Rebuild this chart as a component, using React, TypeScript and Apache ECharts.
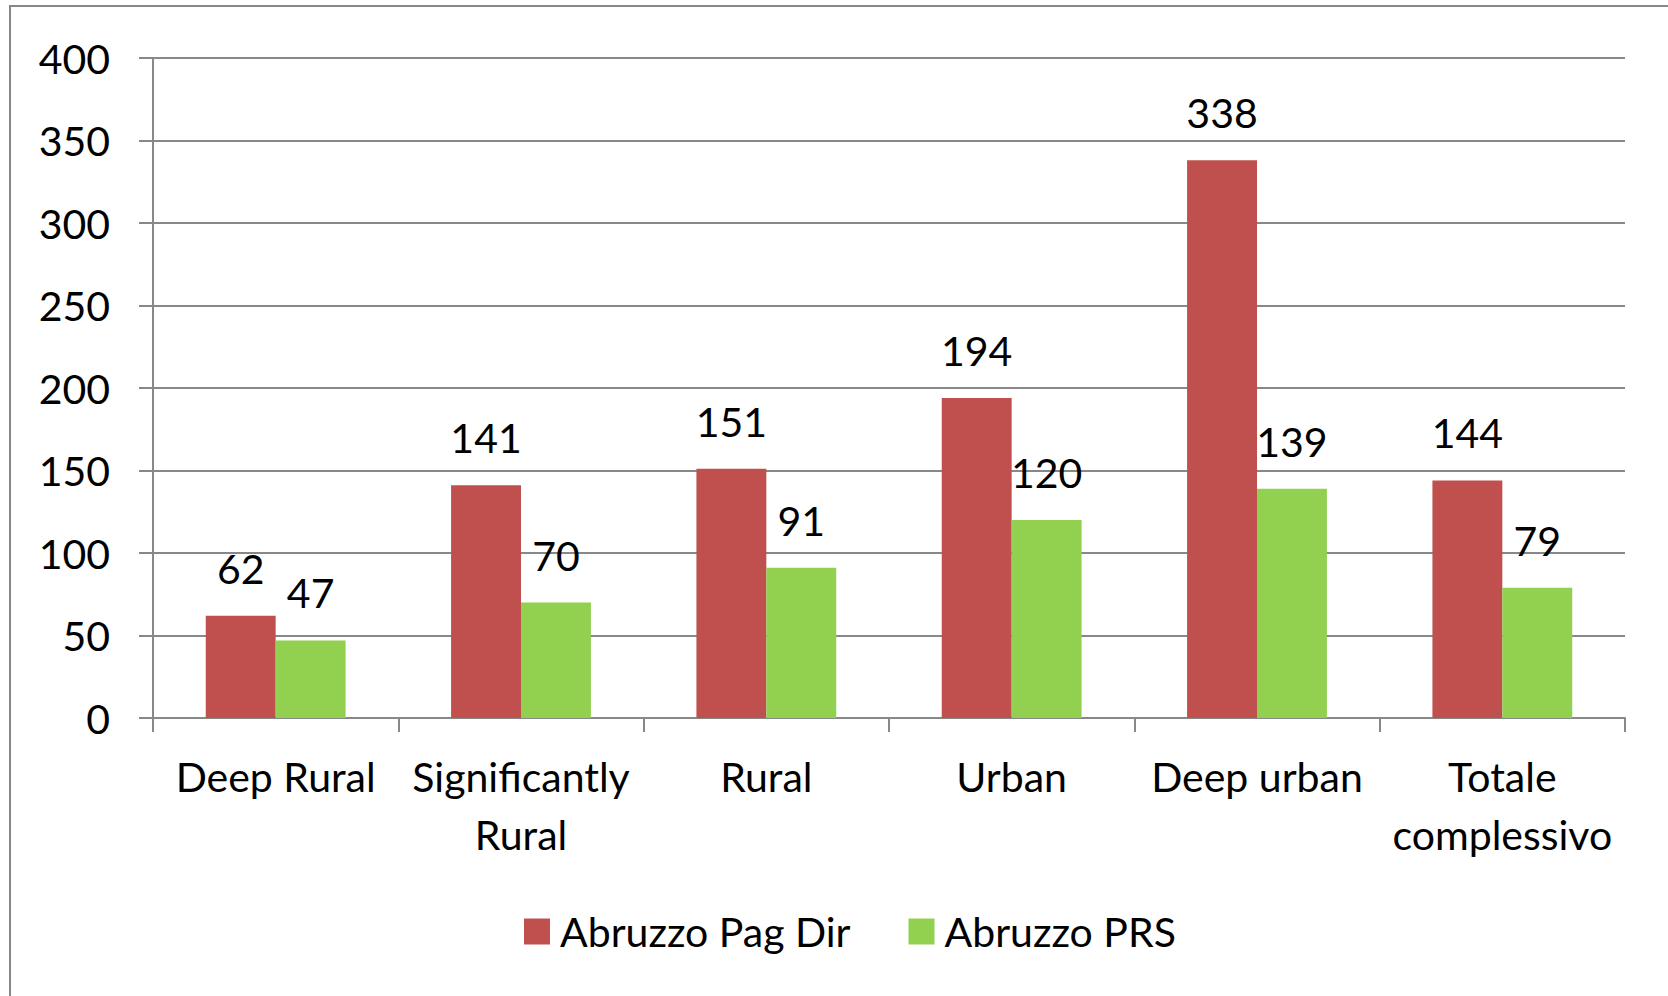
import React, { useEffect, useRef } from "react";
import * as echarts from "echarts";

const categories = ["Deep Rural", "Significantly\nRural", "Rural", "Urban", "Deep urban", "Totale\ncomplessivo"];
const pagDir = [62, 141, 151, 194, 338, 144];
const prs = [47, 70, 91, 120, 139, 79];
const seriesNames = ["Abruzzo Pag Dir", "Abruzzo PRS"];

const FONT = "Lato";
const FS = 41;

export default function App() {
  const ref = useRef<HTMLDivElement>(null);
  useEffect(() => {
    if (!ref.current) return;
    const chart = echarts.init(ref.current, null, { renderer: "svg" });
    const labelStyle = {
      show: true,
      position: "top" as const,
      distance: 27,
      color: "#000",
      fontFamily: FONT,
      fontSize: FS,
    };
    chart.setOption({
      animation: false,
      backgroundColor: "#fff",
      graphic: [
        {
          type: "rect",
          shape: { x: 10, y: 6, width: 1700, height: 1100 },
          style: { fill: "none", stroke: "#888888", lineWidth: 2 },
          silent: true,
        },
      ],
      grid: { left: 153, right: 43, top: 58, height: 660, containLabel: false },
      legend: {
        left: 519,
        top: 906,
        itemWidth: 26,
        itemHeight: 26,
        itemGap: 58,
        icon: "rect",
        textStyle: { color: "#000", fontFamily: FONT, fontSize: FS, padding: [0, 0, 0, 5] },
        data: seriesNames,
      },
      xAxis: {
        type: "category",
        data: categories,
        axisLine: { lineStyle: { color: "#888888", width: 2 } },
        axisTick: { show: true, length: 14, lineStyle: { color: "#888888", width: 2 } },
        axisLabel: {
          color: "#000",
          fontFamily: FONT,
          fontSize: FS,
          lineHeight: 58,
          margin: 29,
          interval: 0,
        },
      },
      yAxis: {
        type: "value",
        min: 0,
        max: 400,
        interval: 50,
        axisLine: { show: true, lineStyle: { color: "#888888", width: 2 } },
        axisTick: { show: true, length: 14, lineStyle: { color: "#888888", width: 2 } },
        splitLine: { lineStyle: { color: "#888888", width: 2 } },
        axisLabel: { color: "#000", fontFamily: FONT, fontSize: FS, margin: 43 },
      },
      series: [
        {
          name: seriesNames[0],
          type: "bar",
          data: pagDir,
          itemStyle: { color: "#C0504D" },
          barGap: "0%",
          barCategoryGap: "43%",
          label: labelStyle,
        },
        {
          name: seriesNames[1],
          type: "bar",
          data: prs,
          itemStyle: { color: "#92D050" },
          barGap: "0%",
          barCategoryGap: "43%",
          label: labelStyle,
        },
      ],
    });
    return () => chart.dispose();
  }, []);
  return (
    <div
      ref={ref}
      style={{ position: "fixed", left: 0, top: 0, width: 1668, height: 996 }}
    />
  );
}
